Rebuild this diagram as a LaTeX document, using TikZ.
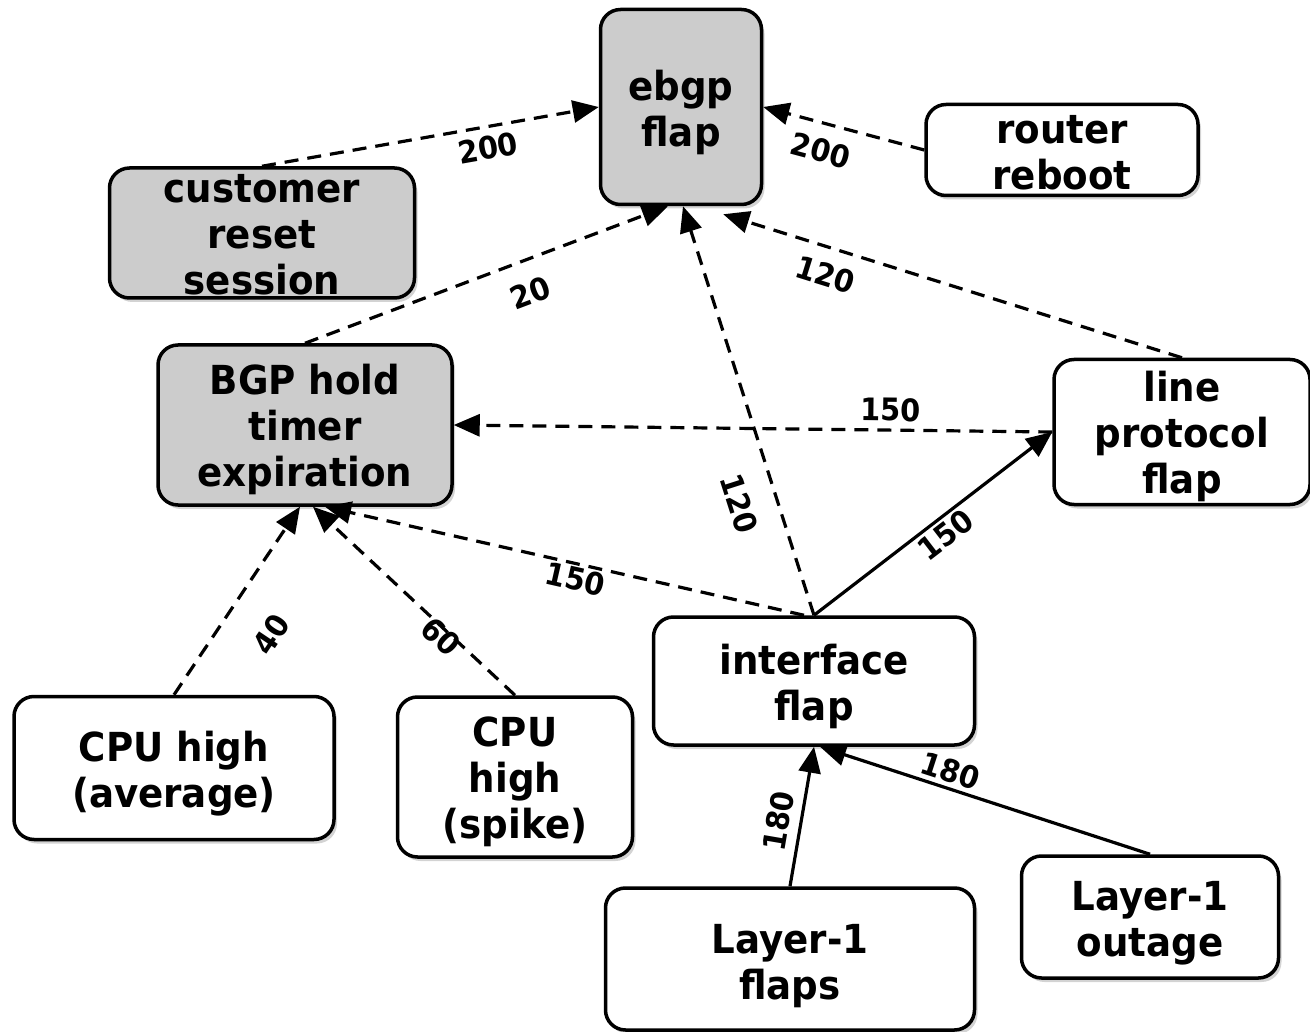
\documentclass[tikz,border=0pt]{standalone}
\usepackage{fontspec}
\setmainfont{DejaVu Sans}[FakeStretch=0.93]
\usetikzlibrary{arrows.meta,shadows,calc}
\definecolor{boxgray}{HTML}{CCCCCC}
\tikzset{
 box/.style={draw=black, line width=3.5pt, rounded corners=20pt, fill=white, inner sep=0pt,
   drop shadow={shadow xshift=3pt, shadow yshift=-4pt, opacity=0.35}},
 graybox/.style={box, fill=boxgray},
 txt/.style={align=center, inner sep=0pt, font=\fontsize{40}{46}\selectfont\bfseries},
 conn/.style={line width=3.2pt, -{Triangle[length=26pt,width=22pt]}},
 dconn/.style={conn, dash pattern=on 14pt off 9pt},
 lbl/.style={font=\fontsize{31}{31}\selectfont\bfseries, inner sep=2pt, sloped},
}
\begin{document}
\begin{tikzpicture}[x=1pt,y=-1pt]
\useasboundingbox (0,0) rectangle (1310,1032);
\node[graybox, minimum width=161pt, minimum height=195pt] (ebgp) at (681,107) {};
\node[graybox, minimum width=305pt, minimum height=130pt] (cust) at (262,233) {};
\node[box, minimum width=272pt, minimum height=91pt] (router) at (1062,150) {};
\node[graybox, minimum width=294pt, minimum height=160pt] (bgp) at (305,425) {};
\node[box, minimum width=256pt, minimum height=145pt] (lpf) at (1182,432) {};
\node[box, minimum width=321pt, minimum height=128pt] (iface) at (814,681) {};
\node[box, minimum width=320pt, minimum height=143pt] (cpuavg) at (174,768) {};
\node[box, minimum width=235pt, minimum height=160pt] (cpuspk) at (515,777) {};
\node[box, minimum width=369pt, minimum height=142pt] (l1f) at (790,959) {};
\node[box, minimum width=257pt, minimum height=122pt] (l1o) at (1150,917) {};

\node[txt] (ebgp-t) at ([yshift=-5pt]ebgp.center) {ebgp\\flap};
\node[txt] (cust-t) at ([yshift=-2pt]cust.center) {customer\\reset\\session};
\node[txt] (router-t) at ([yshift=-3pt]router.center) {router\\reboot};
\node[txt] (bgp-t) at ([yshift=-4pt]bgp.center) {BGP hold\\timer\\expiration};
\node[txt] (lpf-t) at ([yshift=-4pt]lpf.center) {line\\protocol\\flap};
\node[txt] (iface-t) at ([yshift=-5pt]iface.center) {interface\\flap};
\node[txt] (cpuavg-t) at ([yshift=-6pt]cpuavg.center) {CPU high\\(average)};
\node[txt] (cpuspk-t) at ([yshift=-5pt]cpuspk.center) {CPU\\high\\(spike)};
\node[txt] (l1f-t) at ([yshift=-7pt]l1f.center) {Layer-1\\flaps};
\node[txt] (l1o-t) at ([yshift=-6pt]l1o.center) {Layer-1\\outage};

\draw[dconn] (cust.north) -- (ebgp.west) node[lbl,pos=0.66,below=6pt]{200};
\draw[dconn] (router.west) -- (ebgp.east) node[lbl,pos=0.6,below=12pt]{200};
\draw[dconn] (bgp.north) -- ([xshift=-13pt]ebgp.south) node[lbl,pos=0.59,below=17pt]{20};
\draw[dconn] (iface.north) -- ([xshift=2pt]ebgp.south) node[lbl,pos=0.3,below=22pt]{120};
\draw[dconn] (lpf.north) -- ([xshift=-40pt,yshift=-8pt]ebgp.south east) node[lbl,pos=0.76,below=12pt]{120};
\draw[dconn] (lpf.west) -- (bgp.east) node[lbl,pos=0.27,above=5pt]{150};
\draw[dconn] ([xshift=-10pt]iface.north) -- ([xshift=20pt]bgp.south) node[lbl,pos=0.47,below=0pt]{150};
\draw[conn] (iface.north) -- (lpf.west) node[lbl,pos=0.51,below=1pt]{150};
\draw[dconn] (cpuavg.north) -- ([xshift=-5pt]bgp.south) node[lbl,pos=0.46,below=32pt]{40};
\draw[dconn] (cpuspk.north) -- ([xshift=8pt]bgp.south) node[lbl,pos=0.34,below=-8pt]{60};
\draw[conn] (l1f.north) -- (iface.south) node[lbl,pos=0.44,above=7pt]{180};
\draw[conn] (l1o.north) -- ([xshift=6pt]iface.south) node[lbl,pos=0.62,above=2pt]{180};
\end{tikzpicture}
\end{document}
